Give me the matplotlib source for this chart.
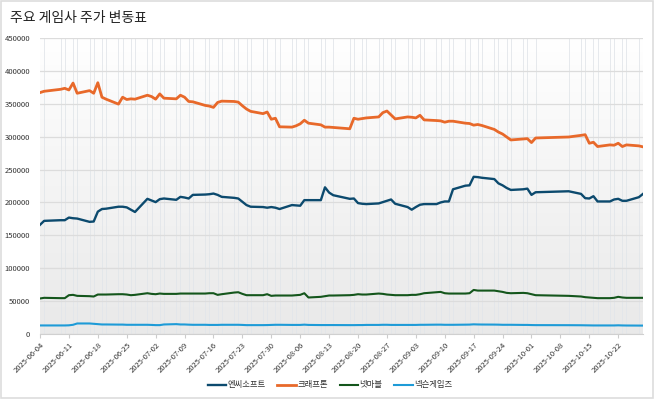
import numpy as np
import pandas as pd
import matplotlib
matplotlib.use("Agg")
import matplotlib.pyplot as plt
import matplotlib.dates as mdates
from matplotlib.colors import LinearSegmentedColormap
from matplotlib.ticker import FixedLocator
from matplotlib.patches import Rectangle

plt.rcParams['font.family'] = ['Noto Sans CJK KR', 'DejaVu Sans']

# ---------------------------------------------------------------------------
# data (closing prices in thousand KRW, KRX trading days)
# ---------------------------------------------------------------------------
holidays = ['2025-06-06', '2025-08-15', '2025-10-03', '2025-10-06',
            '2025-10-07', '2025-10-08', '2025-10-09']
dates = pd.bdate_range('2025-06-04', '2025-10-28')
dates = dates[~dates.isin(pd.to_datetime(holidays))]

series_names = ['엔씨소프트', '크래프톤', '넷마블', '넥슨게임즈']

ncsoft = [
    166, 172, 173, 173, 177, 176, 175.5, 170.5, 171, 186, 190, 190.5, 193.5, 193.5, 192.5, 189, 185.5, 205.5,
    203, 200.5, 205, 206, 204, 208.5, 207.5, 206, 211.5, 212, 212.5, 213.5, 211.5, 208.5, 207, 206, 201, 196,
    193.5, 193, 192, 193, 192,
    190, 196, 195.5, 195, 203.5, 203.5, 203.5, 223, 215, 211, 205.5, 206, 199, 198, 197.5, 198.5, 200.5, 202.5,
    204.5, 198,
    193, 189, 193, 196.5, 197.5, 197.5, 200, 201.5, 201.5, 220, 225.5, 226, 239, 238.5, 237.5, 235.5, 229, 226,
    222, 219, 220, 221,
    211.5, 215.5, 217, 213, 206.5, 206, 209.5, 201.5, 201.5, 204.5, 205.5, 202.5, 202.5, 208, 213,
]
krafton = [
    367, 369, 372, 373.5, 371, 381.5, 366, 370, 366, 382, 360, 357, 349.5, 360, 356.5, 357.5, 357, 363,
    361, 357, 365, 358.5, 357.5, 363, 360, 353.5, 353, 347.5, 346.5, 344.5, 352, 354, 353.5, 352.5, 347, 342,
    338.5, 335, 337.5, 326.5, 328,
    315, 314.5, 316.5, 319.5, 325, 320.5, 318, 314.5, 314.5, 314, 312, 328, 326.5, 327.5, 328.5, 330, 336.5,
    339, 333, 327,
    330, 329.5, 328.5, 332.5, 325.5, 324.5, 324, 322, 323.5, 323.5, 320.5, 320, 317.5, 318.5, 317, 311, 307,
    304, 299.5, 295, 296.5, 297,
    291, 298, 299.5, 302, 303, 290, 291.5, 285, 287.5, 287, 290, 285, 287.5, 286, 284.5,
]
netmarble = [
    54, 55, 54.5, 54.5, 59, 59.5, 58, 57.5, 57, 60, 60, 60, 60.5, 60.5, 60, 59, 59.5, 62,
    61, 60.5, 61.5, 61, 61, 61.5, 61.5, 61.5, 61.5, 61.5, 62, 62, 59.5, 60.5, 63, 63.5, 61, 59, 59, 59, 60.5,
    58, 58.5,
    58.5, 58.5, 59, 59.5, 62, 55.5, 56.5, 57.5, 58.5, 58.5, 59, 59.5, 60.5, 60, 60, 61.5, 61, 60, 59.5, 59,
    59, 59.5, 59.5, 60.5, 62, 63.5, 64, 62, 61.5, 61.5, 61.5, 62, 67, 66, 66, 66, 65, 64, 62.5, 62, 62.5, 62,
    60.5, 59, 58, 57, 56, 55.5, 55, 54.5, 54.5, 55, 56.5, 55.5, 55, 55, 55,
]
nexongames = [
    13, 13, 13, 13, 13.2, 14, 16, 16, 15.5, 15, 14.5, 14.5, 14.3, 14.3, 14, 14, 14, 14,
    13.8, 13.5, 13.5, 14.5, 15, 14.5, 14.5, 14.2, 14, 14, 13.8, 13.8, 13.8, 14, 14, 14, 13.8, 13.5, 13.5,
    13.5, 13.6, 13.8, 14,
    14, 13.8, 13.8, 13.8, 14.2, 13.8, 13.6, 13.6, 13.6, 13.6, 13.5, 13.5, 13.6, 13.6, 13.8, 13.8, 14, 14,
    13.8, 13.8,
    13.8, 13.8, 13.8, 14, 14, 14.2, 14.2, 14, 14, 14, 14.2, 14.3, 14.7, 14.5, 14.4, 14.3, 14.2, 14, 14, 14,
    13.8, 13.8,
    13.6, 13.5, 13.4, 13.3, 13.2, 13.1, 13, 13, 13, 13, 13.2, 13, 12.9, 12.8, 12.8,
]

colors = ['#0c4a6e', '#e8692a', '#14561c', '#1e9bd7']
widths = [1.7, 2.0, 1.5, 1.5]

# ---------------------------------------------------------------------------
fig = plt.figure(figsize=(6.58, 3.99), dpi=100)
ax = fig.add_axes([40 / 658, 1 - 334 / 399, 603 / 658, 296 / 399])

x0, x1 = mdates.date2num(dates[0]), mdates.date2num(dates[-1])

# soft vertical gradient behind the plot
grad = LinearSegmentedColormap.from_list('bg', ['#ffffff', '#e9e9e9'])
ax.imshow(np.linspace(0, 1, 256).reshape(-1, 1), cmap=grad, aspect='auto',
          extent=[x0, x1, 0, 450000], zorder=0)

for vals, name, c, lw in zip([ncsoft, krafton, netmarble, nexongames],
                             series_names, colors, widths):
    ax.plot(dates, np.array(vals) * 1000, color=c, lw=lw, label=name, zorder=3,
            solid_joinstyle='round')

ax.set_xlim(x0, x1)
ax.set_ylim(0, 450000)
ax.set_yticks(np.arange(0, 450001, 50000))
ax.yaxis.set_major_formatter(plt.FuncFormatter(lambda v, p: f'{int(v)}'))

ax.xaxis.set_major_locator(mdates.WeekdayLocator(byweekday=mdates.WE))
ax.xaxis.set_major_formatter(mdates.DateFormatter('%Y-%m-%d'))
ax.xaxis.set_minor_locator(FixedLocator(mdates.date2num(dates)))

ax.grid(True, axis='y', color='#dcdcdc', lw=0.9, zorder=1)
ax.grid(True, axis='x', which='minor', color='#e2e6ea', lw=0.6, zorder=1)
ax.set_axisbelow(True)

for s in ['top', 'right', 'left']:
    ax.spines[s].set_visible(False)
ax.spines['bottom'].set_color('#d0d0d0')
ax.tick_params(axis='y', length=0, pad=7, labelsize=5.5, labelcolor='#333333')
ax.tick_params(axis='x', which='major', length=3, color='#cccccc', pad=2,
               labelsize=5.5, labelcolor='#333333')
ax.tick_params(axis='x', which='minor', length=0)
for lab in ax.get_xticklabels():
    lab.set_rotation(45)
    lab.set_ha('right')
    lab.set_rotation_mode('anchor')

fig.text(10 / 658, 1 - 18 / 399, '주요 게임사 주가 변동표', fontsize=10,
         color='#222222', va='center', ha='left')

fig.legend(loc='center', bbox_to_anchor=(330 / 658, 1 - 385 / 399), ncol=4,
           frameon=False, fontsize=6, handlelength=2.2, handletextpad=0.2,
           columnspacing=1.4, labelcolor='#333333')

fig.patches.append(Rectangle((0.001, 0.002), 652 / 658, 0.995, transform=fig.transFigure,
                             fill=False, edgecolor='#dddddd', lw=1.2))

fig.savefig('out.png', dpi=100, facecolor='white')
